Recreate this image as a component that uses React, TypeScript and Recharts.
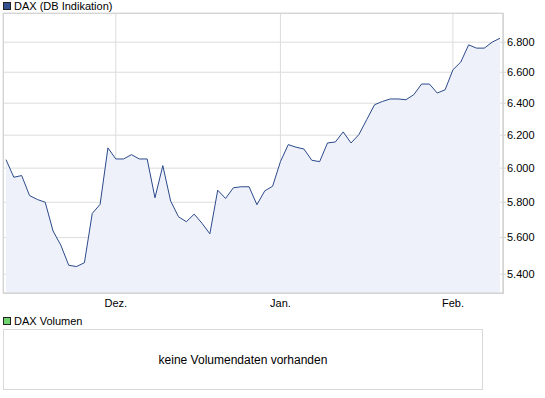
import React from 'react'
import { AreaChart, Area, XAxis, YAxis, CartesianGrid } from 'recharts'

// Handelstage 11.11.2011 - 09.02.2012
const dates = [
  '11.11.', '14.11.', '15.11.', '16.11.', '17.11.', '18.11.', '21.11.', '22.11.', '23.11.', '24.11.',
  '25.11.', '28.11.', '29.11.', '30.11.', '01.12.', '02.12.', '05.12.', '06.12.', '07.12.', '08.12.',
  '09.12.', '12.12.', '13.12.', '14.12.', '15.12.', '16.12.', '19.12.', '20.12.', '21.12.', '22.12.',
  '23.12.', '27.12.', '28.12.', '29.12.', '30.12.', '02.01.', '03.01.', '04.01.', '05.01.', '06.01.',
  '09.01.', '10.01.', '11.01.', '12.01.', '13.01.', '16.01.', '17.01.', '18.01.', '19.01.', '20.01.',
  '23.01.', '24.01.', '25.01.', '26.01.', '27.01.', '30.01.', '31.01.', '01.02.', '02.02.', '03.02.',
  '06.02.', '07.02.', '08.02.', '09.02.',
]

const daxValues = [
  6051, 5946, 5956, 5839, 5816, 5800, 5637, 5557, 5448, 5441,
  5462, 5736, 5788, 6122, 6055, 6055, 6081, 6055, 6055, 5826,
  6015, 5807, 5717, 5689, 5732, 5680, 5621, 5870, 5822, 5884,
  5890, 5890, 5786, 5866, 5893, 6039, 6142, 6126, 6115, 6047,
  6039, 6152, 6158, 6220, 6152, 6203, 6296, 6390, 6411, 6427,
  6427, 6422, 6454, 6523, 6523, 6465, 6486, 6616, 6667, 6782,
  6760, 6760, 6800, 6827,
]

const monthTicks = ['01.12.', '02.01.', '01.02.']
const monthLabels = ['Dez.', 'Jan.', 'Feb.']
const yTicks = [5400, 5600, 5800, 6000, 6200, 6400, 6600, 6800]

const chartData = dates.map((d, i) => ({ d, dax: daxValues[i] }))

const formatDe = (v: number) => {
  const s = String(Math.round(v))
  return s.length > 3 ? s.slice(0, s.length - 3) + '.' + s.slice(-3) : s
}

const font = '"Liberation Sans", Arial, sans-serif'

const LegendBox = ({ color, label, top }: { color: string; label: string; top: number }) => (
  <div style={{ position: 'absolute', left: 3, top, height: 12, display: 'flex', alignItems: 'center' }}>
    <div style={{ width: 6, height: 6, background: color, border: '1px solid #222', marginRight: 3 }} />
    <span style={{ fontSize: 11, color: '#000', lineHeight: '12px' }}>{label}</span>
  </div>
)

export default function App() {
  return (
    <div style={{ position: 'absolute', left: 0, top: 0, width: 545, height: 398, background: '#fff', fontFamily: font }}>
      <LegendBox color="#34518f" label="DAX (DB Indikation)" top={0} />

      <div style={{ position: 'absolute', left: 0, top: 0 }}>
        <AreaChart width={545} height={315} data={chartData} margin={{ top: 13, right: 0, left: 3, bottom: 0 }}>
          <CartesianGrid stroke="#dcdcdc" />
          <XAxis
            dataKey="d"
            ticks={monthTicks}
            tickFormatter={(v: string) => monthLabels[monthTicks.indexOf(v)] ?? ''}
            interval={0}
            height={22}
            padding={{ left: 3, right: 3 }}
            tickLine={false}
            tickMargin={0}
            axisLine={{ stroke: '#d0d0d0' }}
            tick={{ fontSize: 11, fill: '#000', fontFamily: font }}
          />
          <YAxis
            orientation="right"
            type="number"
            scale="log"
            domain={[5300, 7000]}
            allowDataOverflow
            ticks={yTicks}
            tickFormatter={formatDe}
            width={42}
            tickSize={3}
            tickMargin={1}
            tickLine={{ stroke: '#d0d0d0' }}
            axisLine={{ stroke: '#d0d0d0' }}
            tick={{ fontSize: 11, fill: '#000', fontFamily: font }}
          />
          <Area
            type="linear"
            dataKey="dax"
            stroke="#2b4a8b"
            strokeWidth={1}
            fill="#eef1fa"
            fillOpacity={1}
            baseValue="dataMin"
            dot={false}
            activeDot={false}
            isAnimationActive={false}
          />
        </AreaChart>
      </div>

      {/* Rahmen des Kursbereichs */}
      <div style={{ position: 'absolute', left: 3, top: 13, width: 499, height: 279, border: '1px solid #d4d4d4', pointerEvents: 'none' }} />

      <LegendBox color="#6fd36f" label="DAX Volumen" top={315} />

      <div
        style={{
          position: 'absolute', left: 3, top: 329, width: 478, height: 59,
          border: '1px solid #d9d9d9', display: 'flex', alignItems: 'center', justifyContent: 'center',
          fontSize: 12, color: '#000',
        }}
      >
        keine Volumendaten vorhanden
      </div>
    </div>
  )
}
